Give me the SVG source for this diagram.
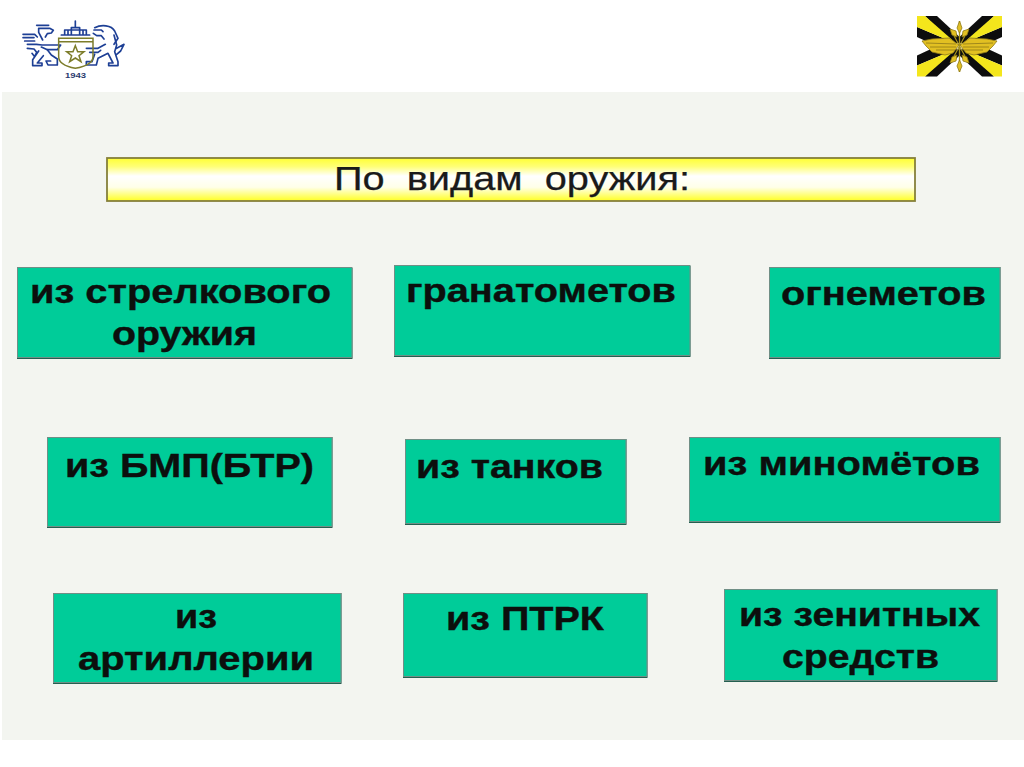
<svg xmlns="http://www.w3.org/2000/svg" width="1024" height="767" viewBox="0 0 1024 767">
<defs>
<linearGradient id="yg" x1="0" y1="0" x2="0" y2="1">
<stop offset="0" stop-color="#ffff33"/><stop offset="0.2" stop-color="#ffff77"/><stop offset="0.42" stop-color="#ffffff"/><stop offset="0.68" stop-color="#ffffe8"/><stop offset="1" stop-color="#ffff22"/>
</linearGradient>
<filter id="soft" x="-5%" y="-5%" width="110%" height="110%"><feGaussianBlur stdDeviation="0.45"/></filter>
<g id="q">
<path d="M925 16H937L966 43 951 43Z" fill="#0d0d0d"/>
<path d="M917 27 955 43 945 50 917 37Z" fill="#0d0d0d"/>
<path d="M917 16H925L957 44 917 27Z" fill="#f4e61e"/>
</g>
</defs>
<style>
.box{fill:#00cc99;stroke:#6f8f86;stroke-width:1}
.sh{fill:#245f50}
.t{font-family:"Liberation Sans",Arial,sans-serif;font-weight:700;font-size:34px;fill:#0c0f0d;stroke:#0c0f0d;stroke-width:.4}
.h{font-family:"Liberation Sans",Arial,sans-serif;font-size:33px;fill:#1a1a1a;stroke:#1a1a1a;stroke-width:.25}
.lg{fill:none;stroke:#1f3f95;stroke-width:5;stroke-linejoin:round;stroke-linecap:round}
.ol{fill:none;stroke:#7d7d2c;stroke-width:4.500}
.wing{fill:#e2c024;stroke:#8f7a18;stroke-width:.8}
.rib{fill:none;stroke:#8f7a18;stroke-width:.8}
.yt{font-family:"Liberation Sans",Arial,sans-serif;font-size:7px;font-weight:700;fill:#2a3a6e}
</style>
<rect width="1024" height="767" fill="#ffffff"/>
<rect x="2" y="92" width="1022" height="648" fill="#f3f5f0"/>

<g id="logo-left">
<g transform="translate(18 15) scale(.33333)" filter="url(#soft)">
<g class="lg">
<path d="M56 31H92M62 40H95L106 46 100 54 88 56 82 66M62 40V52L74 75"/>
<path d="M15 58H50L58 66M15 68H48M20 78H50M28 88H55L72 90H128L118 104H88L70 96"/>
<path d="M88 104 100 120 118 132V150H90L84 138H98M28 100 48 102 56 112 50 125 42 115M62 108 44 134V152H72V144H58L76 122"/>
<path d="M230 38C250 28 280 30 290 48L300 70 288 88M228 45H250L255 50M226 55 236 62H250L258 72"/>
<path d="M205 100H240L262 88M215 112H240L248 106M288 60 296 90 290 110 300 140V152H272V144H285L270 115 240 130 235 150H205V140H222L230 118M296 100 318 88 308 108 296 118"/>
<path d="M130 60H215M140 60V45H205V60M150 60V45M160 60V38H185V60M172 38V18M195 60V45"/>
</g>
<path class="ol" d="M122 70H225V125Q225 150 172 160Q122 150 122 125Z"/>
<path class="ol" d="M122 80H225" stroke-width="2"/>
<path class="ol" d="M172 92 179 110 198 110 183 122 189 140 172 129 155 140 161 122 146 110 165 110Z"/>
</g>
<text class="yt" x="65" y="77.500" textLength="21" lengthAdjust="spacingAndGlyphs">1943</text>
</g>

<g id="logo-right">
<g filter="url(#soft)">
<use href="#q"/>
<use href="#q" transform="matrix(-1 0 0 1 1919 0)"/>
<use href="#q" transform="matrix(1 0 0 -1 0 92.500)"/>
<use href="#q" transform="matrix(-1 0 0 -1 1919 92.500)"/>
<path d="M959.500 21V72" stroke="#a8941f" stroke-width="1.4"/>
<path d="M952 32 967 60M967 32 952 60" stroke="#a8941f" stroke-width="1.2"/>
<path class="wing" d="M959.500 21 962 28 959.500 33 957 28ZM959.500 60 962 66 959.500 72 957 66ZM950 29 956 31 957 37 952 35ZM969 29 963 31 962 37 967 35ZM950 63 956 61 957 55 952 57ZM969 63 963 61 962 55 967 57Z"/>
<path class="wing" d="M922 41 932 39 949 38 959 45 953 53 945 55 932 52 926 46Z"/>
<path class="wing" d="M997 41 987 39 970 38 960 45 966 53 974 55 987 52 993 46Z"/>
<path class="rib" d="M926 43 956 44M930 47 956 47M936 50 955 50M993 43 963 44M989 47 963 47M983 50 964 50"/>
</g>
</g>

<g id="connectors"></g>

<g id="title">
<rect x="107" y="158" width="808" height="43" fill="url(#yg)" stroke="#85803a" stroke-width="1.8"/>
<text class="h" x="334" y="190" textLength="356" lengthAdjust="spacingAndGlyphs" xml:space="preserve">По  видам  оружия:</text>
</g>

<g id="n1"><rect class="sh" x="17" y="268" width="335.500" height="91"/><rect class="box" x="17.500" y="267.500" width="334.500" height="90"/>
<text class="t" x="30" y="303" textLength="301" lengthAdjust="spacingAndGlyphs">из стрелкового</text>
<text class="t" x="112" y="345" textLength="145" lengthAdjust="spacingAndGlyphs">оружия</text></g>
<g id="n2"><rect class="sh" x="394" y="266" width="296.500" height="91"/><rect class="box" x="394.500" y="265.500" width="295.500" height="90"/>
<text class="t" x="406" y="302" textLength="270" lengthAdjust="spacingAndGlyphs">гранатометов</text></g>
<g id="n3"><rect class="sh" x="769" y="267" width="231.500" height="92"/><rect class="box" x="769.500" y="267.500" width="230.500" height="90"/>
<text class="t" x="781" y="305" textLength="205" lengthAdjust="spacingAndGlyphs">огнеметов</text></g>
<g id="n4"><rect class="sh" x="47" y="437" width="285.500" height="91"/><rect class="box" x="47.500" y="437.500" width="284.500" height="89"/>
<text class="t" x="65" y="477" textLength="249" lengthAdjust="spacingAndGlyphs">из БМП(БТР)</text></g>
<g id="n5"><rect class="sh" x="405" y="439" width="221.500" height="86"/><rect class="box" x="405.500" y="439.500" width="220.500" height="84"/>
<text class="t" x="416" y="478" textLength="187" lengthAdjust="spacingAndGlyphs">из танков</text></g>
<g id="n6"><rect class="sh" x="689" y="437" width="311.500" height="86"/><rect class="box" x="689.500" y="437.500" width="310.500" height="84"/>
<text class="t" x="703" y="475" textLength="277" lengthAdjust="spacingAndGlyphs">из миномётов</text></g>
<g id="n7"><rect class="sh" x="53" y="593" width="288.500" height="91"/><rect class="box" x="53.500" y="593.500" width="287.500" height="89"/>
<text class="t" x="175" y="628" textLength="42" lengthAdjust="spacingAndGlyphs">из</text>
<text class="t" x="78" y="670" textLength="236" lengthAdjust="spacingAndGlyphs">артиллерии</text></g>
<g id="n8"><rect class="sh" x="403" y="593" width="244.500" height="85"/><rect class="box" x="403.500" y="593.500" width="243.500" height="83"/>
<text class="t" x="446" y="630" textLength="158" lengthAdjust="spacingAndGlyphs">из ПТРК</text></g>
<g id="n9"><rect class="sh" x="724" y="589" width="273.500" height="93"/><rect class="box" x="724.500" y="589.500" width="272.500" height="91"/>
<text class="t" x="739" y="626" textLength="241" lengthAdjust="spacingAndGlyphs">из зенитных</text>
<text class="t" x="782" y="668" textLength="157" lengthAdjust="spacingAndGlyphs">средств</text></g>
</svg>
